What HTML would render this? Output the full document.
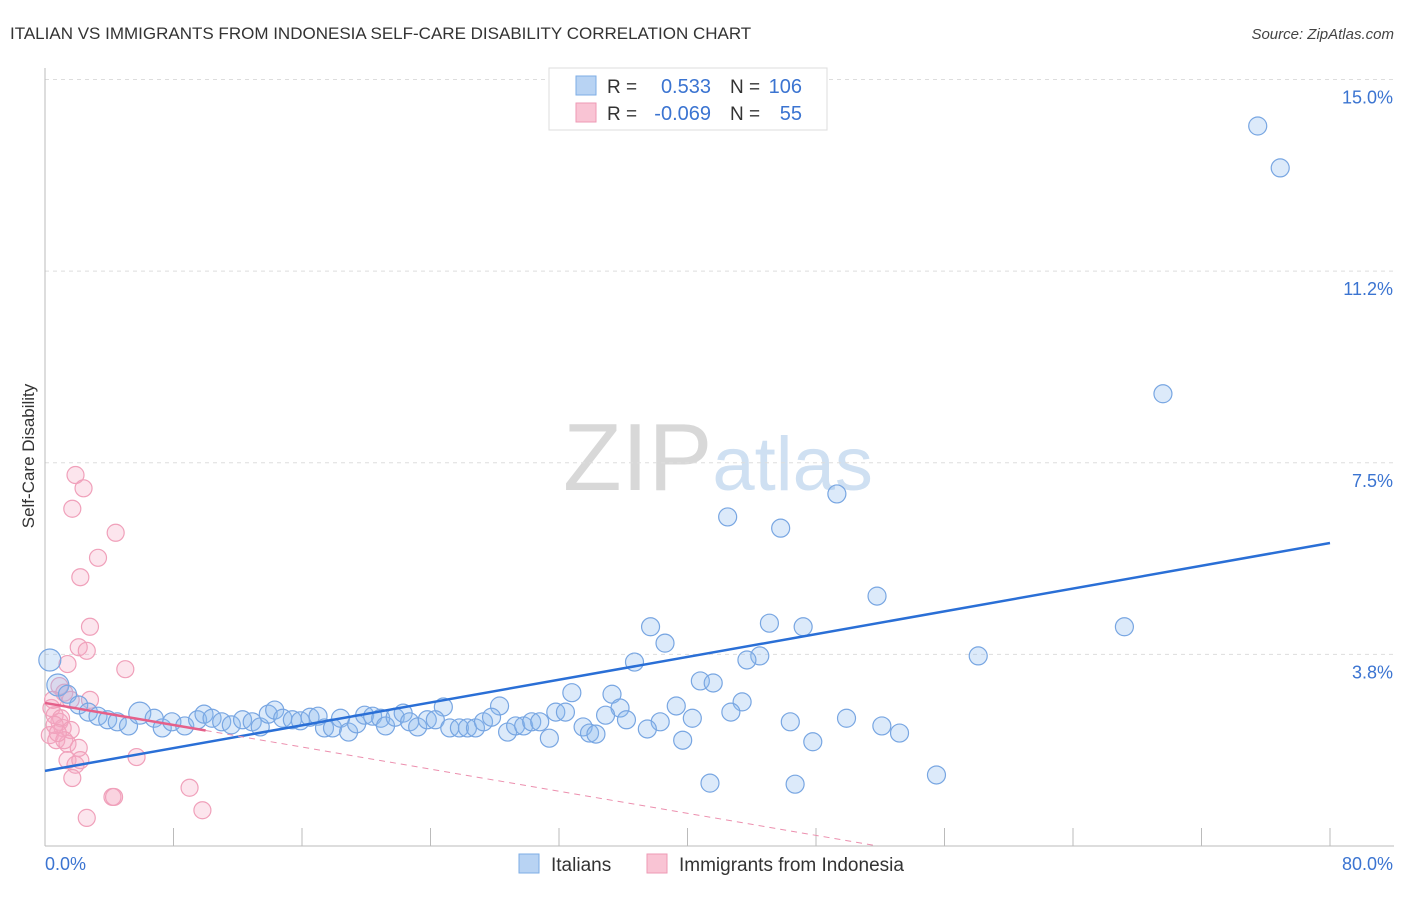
<!DOCTYPE html>
<html><head><meta charset="utf-8"><style>
body{margin:0;background:#fff;font-family:"Liberation Sans",sans-serif}
svg text{font-family:"Liberation Sans",sans-serif}
</style></head><body>
<svg id="chart" width="1406" height="892" viewBox="0 0 1406 892" xmlns="http://www.w3.org/2000/svg">
<text x="10" y="39" font-size="17" fill="#333">ITALIAN VS IMMIGRANTS FROM INDONESIA SELF-CARE DISABILITY CORRELATION CHART</text>
<text x="1394" y="39" font-size="15" fill="#444" text-anchor="end" font-style="italic">Source: ZipAtlas.com</text>
<text x="718" y="490" font-size="96" fill="#ddd" text-anchor="middle" font-family="Liberation Serif"><tspan fill="#d8d8d8">ZIP</tspan><tspan fill="#cfe0f2" font-family="Liberation Sans" font-size="76">atlas</tspan></text>
<g id="grid"></g>
<g id="axes"></g>
<g id="pts-pink"></g>
<g id="pts-blue"></g>
<g id="lines"></g>
<text transform="translate(34,456) rotate(-90)" font-size="17" fill="#333" text-anchor="middle">Self-Care Disability</text>
<g>
<rect x="549" y="68" width="278" height="62" fill="#fff" stroke="#ddd"/>
<rect x="576" y="76" width="20" height="19" fill="#b8d3f3" stroke="#7eaee6"/>
<rect x="576" y="103" width="20" height="19" fill="#f9c4d4" stroke="#ee9ab5"/>
<text x="607" y="93" font-size="19" fill="#333">R =</text>
<text x="711" y="93" font-size="20" fill="#3b74d1" text-anchor="end">0.533</text>
<text x="730" y="93" font-size="19" fill="#333">N =</text>
<text x="802" y="93" font-size="20" fill="#3b74d1" text-anchor="end">106</text>
<text x="607" y="120" font-size="19" fill="#333">R =</text>
<text x="711" y="120" font-size="20" fill="#3b74d1" text-anchor="end">-0.069</text>
<text x="730" y="120" font-size="19" fill="#333">N =</text>
<text x="802" y="120" font-size="20" fill="#3b74d1" text-anchor="end">55</text>
</g>
<g>
<rect x="519" y="854" width="20" height="19" fill="#b8d3f3" stroke="#7eaee6"/>
<text x="551" y="871" font-size="19" fill="#333">Italians</text>
<rect x="647" y="854" width="20" height="19" fill="#f9c4d4" stroke="#ee9ab5"/>
<text x="679" y="871" font-size="19" fill="#333">Immigrants from Indonesia</text>
</g>
</svg>
<script>
const yTicks=[3.75,7.5,11.25,15];
const yTickLabels=["3.8%","7.5%","11.2%","15.0%"];
const xTicks=[0,8,16,24,32,40,48,56,64,72,80];
const xEndLabels=["0.0%","80.0%"];
const blueX=[75.5,76.9,69.6,49.3,42.5,45.8,51.8,67.2,45.1,47.2,37.7,38.6,58.1,44.5,43.7,36.7,40.8,41.6,32.8,35.3,43.4,39.3,35.8,42.7,28.3,24.8,31.8,32.4,34.9,40.3,36.2,38.3,46.4,49.9,52.1,53.2,37.5,33.5,33.9,34.3,31.4,39.7,47.8,55.5,41.4,46.7,0.3,0.8,1.4,2.1,2.7,3.3,3.9,4.5,5.2,5.9,6.8,7.3,7.9,8.7,9.5,9.9,10.4,11.0,11.6,12.3,12.9,13.4,13.9,14.3,14.8,15.4,15.9,16.5,17.0,17.4,17.9,18.4,18.9,19.4,19.9,20.4,20.9,21.2,21.8,22.3,22.7,23.2,23.8,24.3,25.2,25.8,26.3,26.8,27.3,27.8,28.8,29.3,29.8,30.3,30.8];
const blueY=[14.09,13.27,8.85,6.89,6.44,6.22,4.89,4.29,4.36,4.29,4.29,3.97,3.72,3.72,3.64,3.60,3.23,3.19,3.0,2.97,2.82,2.74,2.70,2.62,2.74,2.72,2.62,2.62,2.56,2.50,2.47,2.43,2.43,2.50,2.35,2.21,2.29,2.33,2.21,2.19,2.11,2.07,2.04,1.39,1.23,1.21,3.64,3.15,2.97,2.76,2.62,2.54,2.47,2.43,2.35,2.60,2.50,2.31,2.43,2.35,2.47,2.58,2.50,2.43,2.37,2.47,2.43,2.33,2.58,2.66,2.50,2.47,2.45,2.52,2.54,2.31,2.31,2.50,2.23,2.39,2.56,2.54,2.50,2.35,2.52,2.60,2.43,2.33,2.47,2.47,2.31,2.31,2.31,2.31,2.43,2.52,2.23,2.35,2.35,2.43,2.43];
const pinkX=[1.9,2.4,1.7,4.4,3.3,2.2,2.8,2.1,2.6,1.4,5.0,0.9,2.8,1.2,1.6,0.4,0.6,0.9,1.1,0.3,0.7,1.4,2.1,1.4,1.9,2.2,1.7,5.7,4.2,4.3,9.0,9.8,2.6,0.5,1.0,1.6,1.2,0.6,0.8];
const pinkY=[7.26,7.0,6.6,6.13,5.64,5.26,4.29,3.89,3.82,3.56,3.46,3.13,2.86,3.0,2.86,2.70,2.56,2.43,2.31,2.17,2.07,2.0,1.92,1.68,1.59,1.68,1.33,1.74,0.96,0.96,1.14,0.70,0.55,2.86,2.50,2.27,2.07,2.37,2.21];
const blueTrend=[1.47,5.93];
const pinkTrend=[2.8,-0.054];
const NS="http://www.w3.org/2000/svg";
const X=v=>45+v*(1285/80);
const Y=v=>846-v*51.1;
function mk(tag,attrs,parent){const e=document.createElementNS(NS,tag);for(const k in attrs)e.setAttribute(k,attrs[k]);parent.appendChild(e);return e;}
const grid=document.getElementById('grid'),axes=document.getElementById('axes');
yTicks.forEach((t,i)=>{
 const l=mk('line',{x1:45,x2:1394,y1:Y(t),y2:Y(t),stroke:'#ddd','stroke-dasharray':'4,4'},grid);
 
 
 const tx=mk('text',{x:1393,y:Y(t)+24,'font-size':18,fill:'#3b74d1','text-anchor':'end'},axes);
 tx.textContent=yTickLabels[i];
 
 
});
const la=mk('line',{x1:45,x2:45,y1:68,y2:846,stroke:'#bbb'},axes);


const ba=mk('line',{x1:45,x2:1394,y1:846,y2:846,stroke:'#bbb'},axes);


xTicks.forEach(t=>{
 const l=mk('line',{x1:X(t),x2:X(t),y1:828,y2:846,stroke:'#bbb'},axes);
 
 
});
const xl0=mk('text',{x:45,y:870,'font-size':18,fill:'#3b74d1'},axes);xl0.textContent=xEndLabels[0];


const xl1=mk('text',{x:1393,y:870,'font-size':18,fill:'#3b74d1','text-anchor':'end'},axes);xl1.textContent=xEndLabels[1];


const pg=document.getElementById('pts-pink');
pinkX.forEach((x,i)=>{
 const c=mk('circle',{cx:X(x),cy:Y(pinkY[i]),r:8.5,fill:'rgba(246,170,195,0.3)',stroke:'#f0a0ba','stroke-width':1.2},pg);
 
 
});
const bg=document.getElementById('pts-blue');
blueX.forEach((x,i)=>{
 const big=(x<=0.8||(x>5.5&&x<6.2));
 const c=mk('circle',{cx:X(x),cy:Y(blueY[i]),r:big?11:9,fill:'rgba(140,185,240,0.3)',stroke:'#78a6e2','stroke-width':1.2},bg);
 
 
});
const lg=document.getElementById('lines');
const bl=mk('line',{x1:X(0),y1:Y(blueTrend[0]),x2:X(80),y2:Y(blueTrend[1]),stroke:'#2a6fd6','stroke-width':2.5},lg);


const pe=-pinkTrend[0]/pinkTrend[1];
const pd=mk('line',{x1:X(10),y1:Y(pinkTrend[0]+pinkTrend[1]*10),x2:X(pe),y2:Y(0),stroke:'#ec8fae','stroke-width':1,'stroke-dasharray':'6,5'},lg);


const ps=mk('line',{x1:X(0),y1:Y(pinkTrend[0]),x2:X(10),y2:Y(pinkTrend[0]+pinkTrend[1]*10),stroke:'#e5608a','stroke-width':2.5},lg);


</script>
</body></html>
